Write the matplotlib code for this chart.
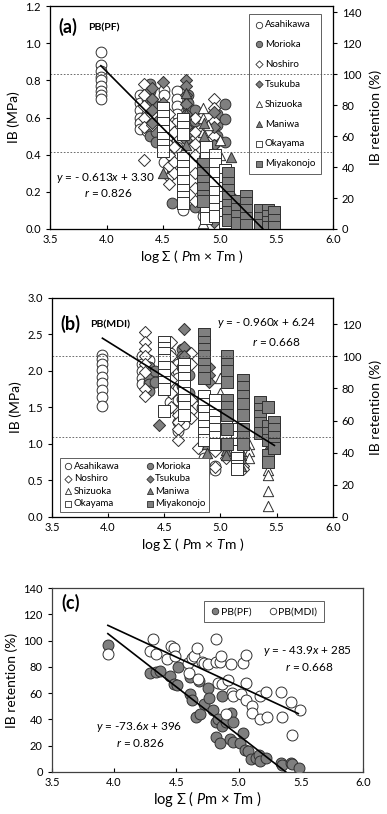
import matplotlib
matplotlib.use("Agg")
import matplotlib.pyplot as plt
import numpy as np

plt.rcParams['font.family'] = ['Lato', 'DejaVu Sans']
plt.rcParams['mathtext.fontset'] = 'custom'
plt.rcParams['mathtext.rm'] = 'Lato'
plt.rcParams['mathtext.it'] = 'Lato:italic'
plt.rcParams['mathtext.bf'] = 'Lato:bold'

sites = ["Asahikawa", "Morioka", "Noshiro", "Tsukuba",
         "Shizuoka", "Maniwa", "Okayama", "Miyakonojo"]

# ---- panel (a): PB(PF), IB in MPa, stacks of specimens per exposure
asahikawa_pf_x = [3.95, 4.30, 4.36, 4.51, 4.62, 4.68, 4.85, 4.92]
asahikawa_pf = [[0.95, 0.88, 0.85, 0.82, 0.80, 0.77, 0.74, 0.72, 0.70],
                [0.72, 0.68, 0.64, 0.60, 0.57, 0.54],
                [0.70, 0.66, 0.62, 0.58, 0.53],
                [0.75, 0.72, 0.36],
                [0.74, 0.70, 0.66, 0.62, 0.57, 0.53, 0.48, 0.44],
                [0.30, 0.25, 0.20, 0.16, 0.12, 0.10],
                [0.30, 0.25, 0.20, 0.15, 0.10, 0.07],
                [0.22, 0.18, 0.14, 0.10, 0.06]]
morioka_pf_x = [4.38, 4.44, 4.58, 4.72, 4.78, 4.98, 5.05]
morioka_pf = [[0.78, 0.74, 0.70, 0.66, 0.62, 0.58, 0.54, 0.50],
              [0.66, 0.60, 0.52, 0.47],
              [0.30, 0.14],
              [0.72, 0.68, 0.64, 0.60, 0.56, 0.52],
              [0.64, 0.58, 0.12],
              [0.62, 0.56, 0.50, 0.08],
              [0.67, 0.59, 0.47]]
noshiro_pf_x = [4.33, 4.40, 4.55, 4.60, 4.78, 4.95, 5.10]
noshiro_pf = [[0.78, 0.72, 0.66, 0.60, 0.55, 0.37],
              [0.70, 0.62, 0.56],
              [0.62, 0.56, 0.50, 0.45, 0.40, 0.34, 0.28, 0.24],
              [0.52, 0.44, 0.36, 0.30],
              [0.60, 0.52, 0.46, 0.40, 0.30, 0.22, 0.15],
              [0.70, 0.65, 0.58, 0.50, 0.45],
              [0.05, 0.00]]
tsukuba_pf_x = [4.40, 4.50, 4.70, 4.95, 5.10]
tsukuba_pf = [[0.76, 0.70, 0.64, 0.57],
              [0.79, 0.68, 0.60],
              [0.80, 0.77, 0.72, 0.67, 0.62, 0.55, 0.48],
              [0.63, 0.55, 0.45, 0.04],
              [0.18, 0.12]]
shizuoka_pf_x = [4.85, 4.90, 5.00, 5.20]
shizuoka_pf = [[0.65, 0.60, 0.52, 0.03],
               [0.56, 0.46, 0.36, 0.26],
               [0.48, 0.40, 0.30, 0.20],
               [0.15, 0.08, 0.04]]
maniwa_pf_x = [4.50, 4.70, 4.86, 5.10, 5.20]
maniwa_pf = [[0.30],
             [0.73, 0.62, 0.45],
             [0.57, 0.50, 0.42],
             [0.39, 0.15, 0.08],
             [0.17, 0.12, 0.06]]
okayama_pf_x = [4.50, 4.68, 4.88, 4.96, 5.05]
okayama_pf = [[0.65, 0.61, 0.57, 0.53, 0.49, 0.45, 0.42],
              [0.59, 0.55, 0.51, 0.38, 0.34, 0.30, 0.26, 0.21, 0.17, 0.14],
              [0.44, 0.38, 0.34, 0.30, 0.26, 0.22, 0.18, 0.14, 0.10, 0.06],
              [0.40, 0.35, 0.30, 0.25, 0.20, 0.15, 0.11, 0.07],
              [0.32, 0.27, 0.22, 0.17, 0.12, 0.08, 0.04]]
miyakonojo_pf_x = [4.85, 5.07, 5.15, 5.23, 5.36, 5.43, 5.48]
miyakonojo_pf = [[0.35, 0.30, 0.26, 0.22, 0.18, 0.15],
                 [0.30, 0.25, 0.21, 0.17, 0.13, 0.09, 0.05],
                 [0.15, 0.11, 0.07, 0.03],
                 [0.18, 0.14, 0.10, 0.06, 0.02],
                 [0.10, 0.06, 0.02],
                 [0.10, 0.07, 0.04, 0.01],
                 [0.09, 0.05, 0.01]]

# ---- panel (b): PB(MDI)
asahikawa_mdi_x = [3.95, 4.30, 4.36, 4.55, 4.62, 4.68, 4.85, 4.95]
asahikawa_mdi = [[2.22, 2.16, 2.10, 2.01, 1.92, 1.84, 1.74, 1.64, 1.52],
                 [2.20, 2.10, 2.00, 1.90, 1.82],
                 [2.15, 2.05, 1.95, 1.85, 1.78],
                 [2.25, 1.58],
                 [2.10, 2.00, 1.90, 1.75, 1.60, 1.45, 1.30, 1.18],
                 [1.55, 1.42, 1.27],
                 [1.00, 0.90, 0.80, 0.72, 0.60],
                 [0.70, 0.64]]
morioka_mdi_x = [4.36, 4.42, 4.66, 4.72, 4.84]
morioka_mdi = [[2.05, 1.98, 1.90, 1.82, 1.72],
               [2.00, 1.85],
               [2.30, 2.20, 2.05, 1.80, 1.62],
               [2.10, 1.95, 1.70],
               [1.62, 1.50]]
noshiro_mdi_x = [4.33, 4.56, 4.62, 4.74, 4.80, 4.95, 5.05, 5.20]
noshiro_mdi = [[2.53, 2.40, 2.30, 2.20, 2.10, 1.98, 1.75, 1.65],
               [2.40, 2.20, 2.05, 1.88, 1.70, 1.50],
               [1.40, 1.30, 1.20, 1.05],
               [2.25, 2.10, 1.60, 1.45, 1.35],
               [0.94],
               [0.68, 0.90, 1.10],
               [0.80, 0.95],
               [0.70, 0.65]]
tsukuba_mdi_x = [4.45, 4.50, 4.68, 4.90, 5.05]
tsukuba_mdi = [[1.26],
               [2.10, 1.90],
               [2.57, 2.33, 2.20, 1.90, 1.60],
               [2.05, 1.95, 1.85],
               [1.50, 1.30, 1.10]]
shizuoka_mdi_x = [4.86, 5.00, 5.25, 5.42]
shizuoka_mdi = [[2.50, 2.35],
                [1.90, 1.70, 1.40],
                [1.00, 0.90, 0.80],
                [0.95, 0.88, 0.78, 0.64, 0.58, 0.35, 0.15]]
maniwa_mdi_x = [4.88, 5.05, 5.18, 5.42]
maniwa_mdi = [[1.00, 0.88],
              [1.20, 1.10, 0.92, 0.85],
              [0.90, 0.85, 0.80, 0.70],
              [0.95, 0.90]]
okayama_mdi_x = [4.50, 4.68, 4.85, 4.95, 5.05, 5.15]
okayama_mdi = [[2.40, 2.32, 2.24, 2.15, 2.05, 1.95, 1.85, 1.75, 1.45],
               [2.10, 2.00, 1.90, 1.80, 1.70, 1.60, 1.50, 1.40],
               [1.65, 1.55, 1.45, 1.35, 1.25, 1.15, 1.05],
               [1.60, 1.50, 1.40, 1.30, 1.20, 1.10, 1.00],
               [1.40, 1.30, 1.20, 1.10, 1.00],
               [1.20, 1.10, 1.00, 0.90, 0.80, 0.70, 0.65]]
miyakonojo_mdi_x = [4.85, 5.06, 5.20, 5.35, 5.42, 5.48]
miyakonojo_mdi = [[2.50, 2.40, 2.30, 2.20, 2.10, 2.00, 1.90],
                  [2.20, 2.10, 2.00, 1.85, 1.60, 1.50, 1.40, 1.20, 1.00],
                  [1.88, 1.78, 1.65, 1.55, 1.40, 1.20, 1.10, 1.00],
                  [1.58, 1.48, 1.38, 1.28, 1.15],
                  [1.50, 1.25, 1.15, 1.05, 0.85, 0.75],
                  [1.30, 1.20, 1.10, 1.00, 0.95]]

# ---- panel (c): mean retention (%)
pf_ret_x = [3.95, 4.285, 4.334, 4.366, 4.446, 4.479, 4.505, 4.513, 4.613, 4.607,
            4.629, 4.661, 4.688, 4.682, 4.720, 4.755, 4.763, 4.795, 4.816, 4.822,
            4.835, 4.849, 4.865, 4.870, 4.902, 4.929, 4.942, 4.956, 4.956, 5.015,
            5.036, 5.050, 5.076, 5.103, 5.143, 5.164, 5.176, 5.224, 5.339, 5.352,
            5.422, 5.433, 5.487]
pf_ret = [97, 75, 76, 77, 73, 67, 66, 80, 72, 59,
          55, 42, 44, 69, 52, 64, 56, 47, 38, 27,
          40, 22, 35, 58, 38, 25, 45, 38, 23, 22,
          30, 17, 16, 10, 11, 13, 8, 11, 7, 5,
          7, 6, 3]
mdi_ret_x = [3.95, 4.285, 4.314, 4.340, 4.426, 4.458, 4.485, 4.490, 4.592, 4.605,
             4.624, 4.640, 4.667, 4.672, 4.704, 4.726, 4.753, 4.816, 4.822, 4.835,
             4.853, 4.862, 4.870, 4.897, 4.915, 4.942, 4.950, 4.956, 5.023, 5.036,
             5.057, 5.057, 5.063, 5.108, 5.111, 5.170, 5.176, 5.224, 5.229, 5.345,
             5.350, 5.425, 5.430, 5.491]
mdi_ret = [90, 92, 101, 90, 86, 96, 94, 88, 83, 75,
           87, 88, 94, 71, 84, 83, 82, 101, 84, 68,
           84, 88, 67, 44, 70, 82, 60, 58, 59, 83,
           89, 68, 55, 50, 45, 40, 58, 61, 42, 61,
           42, 53, 28, 47]

# regression lines: slope, intercept, x range
fit_pf = (-0.613, 3.30, 3.95, 5.38)
fit_mdi = (-0.960, 6.24, 3.95, 5.48)
fit_pf_ret = (-73.6, 396, 3.95, 5.38)
fit_mdi_ret = (-43.9, 285, 3.95, 5.48)

pf_data = [(asahikawa_pf_x, asahikawa_pf), (morioka_pf_x, morioka_pf),
           (noshiro_pf_x, noshiro_pf), (tsukuba_pf_x, tsukuba_pf),
           (shizuoka_pf_x, shizuoka_pf), (maniwa_pf_x, maniwa_pf),
           (okayama_pf_x, okayama_pf), (miyakonojo_pf_x, miyakonojo_pf)]
mdi_data = [(asahikawa_mdi_x, asahikawa_mdi), (morioka_mdi_x, morioka_mdi),
            (noshiro_mdi_x, noshiro_mdi), (tsukuba_mdi_x, tsukuba_mdi),
            (shizuoka_mdi_x, shizuoka_mdi), (maniwa_mdi_x, maniwa_mdi),
            (okayama_mdi_x, okayama_mdi), (miyakonojo_mdi_x, miyakonojo_mdi)]

GRAY = "#7f7f7f"
EDGE = "#303030"
styles = [("o", "white", 60), ("o", GRAY, 60), ("D", "white", 38), ("D", GRAY, 38),
          ("^", "white", 55), ("^", GRAY, 55), ("s", "white", 72), ("s", GRAY, 72)]

xlab = r'log $\Sigma$ ( $P$m × $T$m )'


def draw_sites(ax, data):
    handles = []
    for (xs, stacks), (m, fc, s), name in zip(data, styles, sites):
        px, py = [], []
        for x, st in zip(xs, stacks):
            px += [x] * len(st)
            py += st
        ax.scatter(px, py, marker=m, s=s, facecolor=fc, edgecolor=EDGE, linewidth=0.7, zorder=3)
        handles.append(ax.scatter([], [], marker=m, s=s * 0.35, facecolor=fc,
                                  edgecolor=EDGE, linewidth=0.6, label=name))
    return handles


def draw_fit(ax, fit):
    a, b, x0, x1 = fit
    xx = np.array([x0, x1])
    ax.plot(xx, a * xx + b, color="black", lw=1.2, zorder=5)


def style_x(ax):
    ax.set_xlim(3.5, 6.0)
    ax.set_xticks(np.arange(3.5, 6.01, 0.5))
    ax.set_xticklabels(["%.1f" % v for v in np.arange(3.5, 6.01, 0.5)])
    ax.tick_params(axis='x', direction='in', labelsize=8, length=3)
    ax.tick_params(axis='y', direction='out', labelsize=8, length=3)
    ax.set_xlabel(xlab, fontsize=10, labelpad=2)
    for sp in ax.spines.values():
        sp.set_color("#404040")
        sp.set_linewidth(0.9)


fig = plt.figure(figsize=(3.87, 8.14), dpi=100)

# ---------------- (a)
ax1 = fig.add_axes([0.129, 0.7187, 0.731, 0.2739])
h = draw_sites(ax1, pf_data)
draw_fit(ax1, fit_pf)
ax1.set_ylim(0, 1.2)
ax1.set_yticks(np.arange(0, 1.21, 0.2))
ax1.set_yticklabels(["%.1f" % v for v in np.arange(0, 1.21, 0.2)])
style_x(ax1)
ax1.set_ylabel("IB (MPa)", fontsize=10, labelpad=4)
r1 = ax1.twinx()
r1.set_ylim(0, 1.2 / 0.833 * 100)
r1.set_yticks(np.arange(0, 141, 20))
r1.tick_params(axis='y', direction='out', labelsize=8, length=3)
r1.set_ylabel("IB retention (%)", fontsize=10, labelpad=6)
for v in (100, 50):
    r1.axhline(v, color="#555555", lw=0.6, ls=(0, (2, 2)), zorder=1)
ax1.text(0.03, 0.905, "(a)", transform=ax1.transAxes, fontsize=13, fontweight="bold", va="center")
ax1.text(0.135, 0.9, "PB(PF)", transform=ax1.transAxes, fontsize=7.5, fontweight="bold", va="center")
ax1.text(0.195, 0.228, r'$y$ = - 0.613$x$ + 3.30', transform=ax1.transAxes, fontsize=8.5, ha="center", va="center")
ax1.text(0.205, 0.16, r'$r$ = 0.826', transform=ax1.transAxes, fontsize=8.5, ha="center", va="center")
leg = ax1.legend(handles=h, loc="upper right", bbox_to_anchor=(0.975, 0.985), fontsize=7,
                 labelspacing=1.12, handletextpad=0.05, handlelength=1.0, borderpad=0.6,
                 frameon=True, fancybox=False, edgecolor="#606060", framealpha=1)
leg.get_frame().set_linewidth(0.7)
leg.set_zorder(10)

# ---------------- (b)
ax2 = fig.add_axes([0.134, 0.365, 0.726, 0.269])
h = draw_sites(ax2, mdi_data)
draw_fit(ax2, fit_mdi)
ax2.set_ylim(0, 3.0)
ax2.set_yticks(np.arange(0, 3.01, 0.5))
ax2.set_yticklabels(["%.1f" % v for v in np.arange(0, 3.01, 0.5)])
style_x(ax2)
ax2.set_ylabel("IB (MPa)", fontsize=10, labelpad=4)
r2 = ax2.twinx()
r2.set_ylim(0, 3.0 / 2.2 * 100)
r2.set_yticks(np.arange(0, 121, 20))
r2.tick_params(axis='y', direction='out', labelsize=8, length=3)
r2.set_ylabel("IB retention (%)", fontsize=10, labelpad=6)
for v in (100, 50):
    r2.axhline(v, color="#555555", lw=0.6, ls=(0, (2, 2)), zorder=1)
ax2.text(0.03, 0.88, "(b)", transform=ax2.transAxes, fontsize=13, fontweight="bold", va="center")
ax2.text(0.135, 0.875, "PB(MDI)", transform=ax2.transAxes, fontsize=7.5, fontweight="bold", va="center")
ax2.text(0.94, 0.885, r'$y$ = - 0.960$x$ + 6.24', transform=ax2.transAxes, fontsize=8.5, ha="right", va="center")
ax2.text(0.885, 0.80, r'$r$ = 0.668', transform=ax2.transAxes, fontsize=8.5, ha="right", va="center")
# legend filled by columns: reorder so rows read Asahikawa/Morioka, Noshiro/Tsukuba, ...
hb = [h[0], h[2], h[4], h[6], h[1], h[3], h[5], h[7]]
leg = ax2.legend(handles=hb, loc="lower left", bbox_to_anchor=(0.01, 0.0), ncol=2, fontsize=7,
                 labelspacing=0.35, handletextpad=0.05, handlelength=1.0, borderpad=0.4,
                 columnspacing=2.6, frameon=True, fancybox=False, edgecolor="#606060", framealpha=1)
leg.get_frame().set_linewidth(0.7)
leg.set_zorder(10)

# ---------------- (c)
ax3 = fig.add_axes([0.134, 0.0516, 0.804, 0.226])
ax3.scatter(pf_ret_x, pf_ret, marker="o", s=62, facecolor=GRAY, edgecolor=EDGE, linewidth=0.7, zorder=3)
ax3.scatter(mdi_ret_x, mdi_ret, marker="o", s=62, facecolor="white", edgecolor=EDGE, linewidth=0.7, zorder=3)
draw_fit(ax3, fit_pf_ret)
draw_fit(ax3, fit_mdi_ret)
ax3.set_ylim(0, 140)
ax3.set_yticks(np.arange(0, 141, 20))
style_x(ax3)
ax3.set_xlabel(xlab, fontsize=10.5, labelpad=1)
ax3.set_ylabel("IB retention (%)", fontsize=10, labelpad=4)
ax3.text(0.03, 0.92, "(c)", transform=ax3.transAxes, fontsize=13, fontweight="bold", va="center")
ax3.text(0.68, 0.658, r'$y$ = - 43.9$x$ + 285', transform=ax3.transAxes, fontsize=8.5, ha="left", va="center")
ax3.text(0.905, 0.571, r'$r$ = 0.668', transform=ax3.transAxes, fontsize=8.5, ha="right", va="center")
ax3.text(0.28, 0.245, r'$y$ = -73.6$x$ + 396', transform=ax3.transAxes, fontsize=8.5, ha="center", va="center")
ax3.text(0.285, 0.158, r'$r$ = 0.826', transform=ax3.transAxes, fontsize=8.5, ha="center", va="center")
hc = [ax3.scatter([], [], marker="o", s=22, facecolor=GRAY, edgecolor=EDGE, linewidth=0.6, label="PB(PF)"),
      ax3.scatter([], [], marker="o", s=22, facecolor="white", edgecolor=EDGE, linewidth=0.6, label="PB(MDI)")]
leg = ax3.legend(handles=hc, loc="upper right", bbox_to_anchor=(0.89, 0.96), ncol=2, fontsize=7.5,
                 handletextpad=0.05, handlelength=1.0, borderpad=0.6, columnspacing=1.5,
                 frameon=True, fancybox=False, edgecolor="#606060", framealpha=1)
leg.get_frame().set_linewidth(0.7)

fig.savefig("out.png", dpi=100)
